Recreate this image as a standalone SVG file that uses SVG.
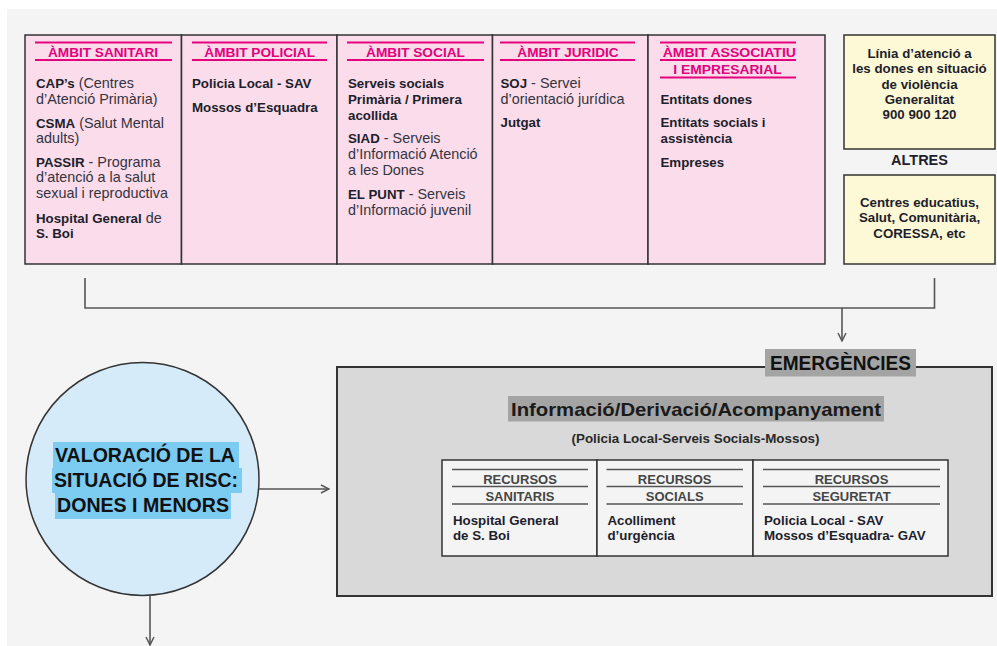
<svg xmlns="http://www.w3.org/2000/svg" width="997" height="646" viewBox="0 0 997 646">
<style>
  text { font-family: "Liberation Sans", Arial, sans-serif; }
  .b { font-weight: bold; font-size: 13.3px; fill: #1e1e2c; }
  .r { font-weight: normal; font-size: 14.4px; fill: #34343f; }
  .hd { font-weight: bold; font-size: 13px; fill: #e5007d; text-anchor: middle; }
  .mg { stroke: #e5007d; stroke-width: 2; }
  .cell { fill: #fadcea; stroke: #333; stroke-width: 1.5; }
  .yel { fill: #fdf8d6; stroke: #333; stroke-width: 1.5; }
  .c { text-anchor: middle; }
  .th { font-weight: bold; font-size: 13px; fill: #454545; text-anchor: middle; }
  .tl { stroke: #555; stroke-width: 1.3; }
  .conn { fill: none; stroke: #555; stroke-width: 1.6; }
</style>
<defs>
  <marker id="arr" viewBox="0 0 10 10" refX="9" refY="5" markerWidth="10" markerHeight="10" markerUnits="userSpaceOnUse" orient="auto">
    <path d="M1,1 L9,5 L1,9" fill="none" stroke="#555" stroke-width="1.5"/>
  </marker>
</defs>
<rect x="0" y="0" width="997" height="646" fill="#ffffff"/>
<rect x="7" y="9" width="990" height="637" fill="#f4f4f4"/>

<g id="ambit-sanitari">
  <rect class="cell" x="25" y="35" width="156.5" height="229"/>
  <line class="mg" x1="35" y1="42.5" x2="172" y2="42.5"/>
  <line class="mg" x1="35" y1="60" x2="172" y2="60"/>
  <text class="hd" x="103" y="56.5" textLength="110" lengthAdjust="spacingAndGlyphs">ÀMBIT SANITARI</text>
  <text class="b" x="36" y="88">CAP’s<tspan class="r"> (Centres</tspan></text>
  <text class="b r" x="36" y="104">d’Atenció Primària)</text>
  <text class="b" x="36" y="127.5">CSMA<tspan class="r"> (Salut Mental</tspan></text>
  <text class="b r" x="36" y="143">adults)</text>
  <text class="b" x="36" y="166.5">PASSIR<tspan class="r"> - Programa</tspan></text>
  <text class="b r" x="36" y="182.2">d’atenció a la salut</text>
  <text class="b r" x="36" y="198">sexual i reproductiva</text>
  <text class="b" x="36" y="222.5">Hospital General<tspan class="r"> de</tspan></text>
  <text class="b" x="36" y="238">S. Boi</text>
</g>

<g id="ambit-policial">
  <rect class="cell" x="181.5" y="35" width="155.5" height="229"/>
  <line class="mg" x1="192" y1="42.5" x2="327" y2="42.5"/>
  <line class="mg" x1="192" y1="60" x2="327" y2="60"/>
  <text class="hd" x="259.7" y="56.5" textLength="110.7" lengthAdjust="spacingAndGlyphs">ÀMBIT POLICIAL</text>
  <text class="b" x="192" y="88">Policia Local - SAV</text>
  <text class="b" x="192" y="111.5">Mossos d’Esquadra</text>
</g>

<g id="ambit-social">
  <rect class="cell" x="337" y="35" width="155.5" height="229"/>
  <line class="mg" x1="347" y1="42.5" x2="484" y2="42.5"/>
  <line class="mg" x1="347" y1="60" x2="484" y2="60"/>
  <text class="hd" x="415.5" y="56.5" textLength="99" lengthAdjust="spacingAndGlyphs">ÀMBIT SOCIAL</text>
  <text class="b" x="348" y="88">Serveis socials</text>
  <text class="b" x="348" y="104">Primària / Primera</text>
  <text class="b" x="348" y="119.7">acollida</text>
  <text class="b" x="348" y="143">SIAD<tspan class="r"> - Serveis</tspan></text>
  <text class="b r" x="348" y="159">d’Informació Atenció</text>
  <text class="b r" x="348" y="175">a les Dones</text>
  <text class="b" x="348" y="198.5">EL PUNT<tspan class="r"> - Serveis</tspan></text>
  <text class="b r" x="348" y="214.5">d’Informació juvenil</text>
</g>

<g id="ambit-juridic">
  <rect class="cell" x="492.5" y="35" width="155.5" height="229"/>
  <line class="mg" x1="500" y1="42.5" x2="635" y2="42.5"/>
  <line class="mg" x1="500" y1="60" x2="635" y2="60"/>
  <text class="hd" x="568" y="56.5" textLength="101.3" lengthAdjust="spacingAndGlyphs">ÀMBIT JURIDIC</text>
  <text class="b" x="500.5" y="88">SOJ<tspan class="r"> - Servei</tspan></text>
  <text class="b r" x="500.5" y="104">d’orientació jurídica</text>
  <text class="b" x="500.5" y="127">Jutgat</text>
</g>

<g id="ambit-associatiu">
  <rect class="cell" x="648" y="35" width="177" height="229"/>
  <line class="mg" x1="660" y1="42.5" x2="796" y2="42.5"/>
  <line class="mg" x1="660" y1="60" x2="796" y2="60"/>
  <line class="mg" x1="660" y1="77.5" x2="796" y2="77.5"/>
  <text class="hd" x="729.3" y="56.5" textLength="133.3" lengthAdjust="spacingAndGlyphs">ÀMBIT ASSOCIATIU</text>
  <text class="hd" x="727.5" y="74" textLength="108.3" lengthAdjust="spacingAndGlyphs">I EMPRESARIAL</text>
  <text class="b" x="660.5" y="103.5">Entitats dones</text>
  <text class="b" x="660.5" y="127">Entitats socials i</text>
  <text class="b" x="660.5" y="143">assistència</text>
  <text class="b" x="660.5" y="166.5">Empreses</text>
</g>

<g id="linia-atencio">
  <rect class="yel" x="844" y="35" width="151" height="114"/>
  <text class="b c" x="919.5" y="58">Línia d’atenció a</text>
  <text class="b c" x="919.5" y="73.3">les dones en situació</text>
  <text class="b c" x="919.5" y="88.6">de violència</text>
  <text class="b c" x="919.5" y="104">Generalitat</text>
  <text class="b c" x="919.5" y="119.3">900 900 120</text>
</g>

<g id="altres">
  <text class="c" x="919.5" y="165" font-size="14.5" font-weight="bold" fill="#1e1e2c">ALTRES</text>
  <rect class="yel" x="844" y="175" width="151" height="89"/>
  <text class="b c" x="919.5" y="206.7">Centres educatius,</text>
  <text class="b c" x="919.5" y="222.3">Salut, Comunitària,</text>
  <text class="b c" x="919.5" y="238">CORESSA, etc</text>
</g>

<g id="valoracio">
  <circle cx="142.5" cy="479" r="116.5" fill="#d5ebf9" stroke="#333" stroke-width="1.5"/>
  <rect x="53" y="442" width="186" height="26" fill="#7ccbf1"/>
  <rect x="52" y="468" width="190" height="25" fill="#7ccbf1"/>
  <rect x="55" y="493" width="176" height="26" fill="#7ccbf1"/>
  <text class="c" x="145" y="462" font-size="19.5" font-weight="bold" fill="#111" textLength="180" lengthAdjust="spacingAndGlyphs">VALORACIÓ DE LA</text>
  <text class="c" x="146" y="487" font-size="19.5" font-weight="bold" fill="#111" textLength="184" lengthAdjust="spacingAndGlyphs">SITUACIÓ DE RISC:</text>
  <text class="c" x="143" y="512" font-size="19.5" font-weight="bold" fill="#111" textLength="172" lengthAdjust="spacingAndGlyphs">DONES I MENORS</text>
</g>

<g id="emergencies">
  <rect x="337" y="367" width="655" height="229" fill="#d9d9d9" stroke="#333" stroke-width="2"/>
  <rect x="765" y="349" width="151" height="27.5" fill="#a4a4a4"/>
  <text class="c" x="840.5" y="370" font-size="19.5" font-weight="bold" fill="#111" textLength="141" lengthAdjust="spacingAndGlyphs">EMERGÈNCIES</text>
  <rect x="508" y="396" width="376" height="25.5" fill="#a4a4a4"/>
  <text class="c" x="696" y="416" font-size="19" font-weight="bold" fill="#1a1a1a" textLength="370" lengthAdjust="spacingAndGlyphs">Informació/Derivació/Acompanyament</text>
  <text class="c" x="695.5" y="443" font-size="12" font-weight="bold" fill="#2a2a2a" textLength="248" lengthAdjust="spacingAndGlyphs">(Policia Local-Serveis Socials-Mossos)</text>
</g>

<g id="recursos-sanitaris">
  <rect x="442" y="460" width="155" height="96" fill="#f4f4f4" stroke="#333" stroke-width="1.5"/>
  <line class="tl" x1="452" y1="469.5" x2="588" y2="469.5"/>
  <line class="tl" x1="452" y1="486.5" x2="588" y2="486.5"/>
  <line class="tl" x1="452" y1="504" x2="588" y2="504"/>
  <text class="th" x="520" y="484">RECURSOS</text>
  <text class="th" x="520" y="501">SANITARIS</text>
  <text class="b" x="453" y="524.5">Hospital General</text>
  <text class="b" x="453" y="540">de S. Boi</text>
</g>

<g id="recursos-socials">
  <rect x="597" y="460" width="156" height="96" fill="#f4f4f4" stroke="#333" stroke-width="1.5"/>
  <line class="tl" x1="606.5" y1="469.5" x2="743" y2="469.5"/>
  <line class="tl" x1="606.5" y1="486.5" x2="743" y2="486.5"/>
  <line class="tl" x1="606.5" y1="504" x2="743" y2="504"/>
  <text class="th" x="674.7" y="484">RECURSOS</text>
  <text class="th" x="674.7" y="501">SOCIALS</text>
  <text class="b" x="607.5" y="524.5">Acolliment</text>
  <text class="b" x="607.5" y="540">d’urgència</text>
</g>

<g id="recursos-seguretat">
  <rect x="753" y="460" width="195" height="96" fill="#f4f4f4" stroke="#333" stroke-width="1.5"/>
  <line class="tl" x1="763" y1="469.5" x2="940" y2="469.5"/>
  <line class="tl" x1="763" y1="486.5" x2="940" y2="486.5"/>
  <line class="tl" x1="763" y1="504" x2="940" y2="504"/>
  <text class="th" x="851.5" y="484">RECURSOS</text>
  <text class="th" x="851.5" y="501">SEGURETAT</text>
  <text class="b" x="764" y="524.5">Policia Local - SAV</text>
  <text class="b" x="764" y="540">Mossos d’Esquadra- GAV</text>
</g>

<g id="connectors">
  <path class="conn" d="M85,278 V308 H934.5 V278"/>
  <path class="conn" d="M842,308 V341" marker-end="url(#arr)"/>
  <path class="conn" d="M259,489 H329" marker-end="url(#arr)"/>
  <path class="conn" d="M150,596 V645" marker-end="url(#arr)"/>
</g>
</svg>
